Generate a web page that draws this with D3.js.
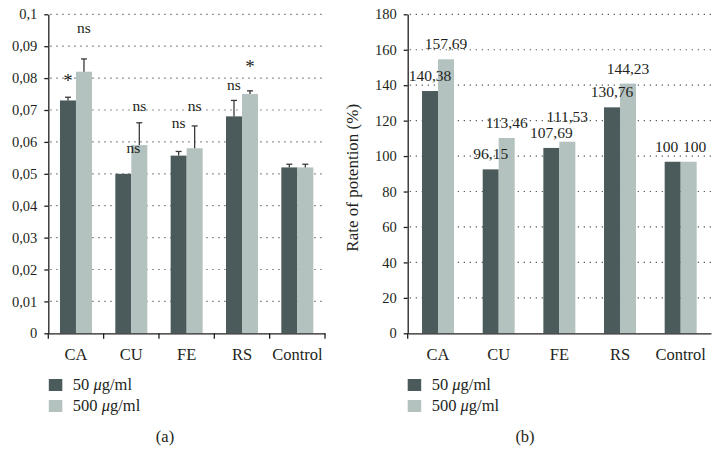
<!DOCTYPE html>
<html>
<head>
<meta charset="utf-8">
<script src="https://cdn.jsdelivr.net/npm/d3@7"></script>
<style>
  html, body { margin: 0; padding: 0; background: #fff; }
  svg { display: block; font-family: "Liberation Serif", "Times New Roman", serif; }
</style>
</head>
<body>
<svg id="chart" width="722" height="471"></svg>
<script>
// ---------- DATA ----------
const categories = ["CA", "CU", "FE", "RS", "Control"];
const seriesNames = ["50 μg/ml", "500 μg/ml"];

// Panel (a)
const a50 = [0.073, 0.050, 0.0557, 0.068, 0.052];
const a500 = [0.082, 0.059, 0.058, 0.075, 0.052];
const a50Err = [0.001, 0, 0.0013, 0.005, 0.001];
const a500Err = [0.004, 0.007, 0.007, 0.001, 0.001];
const a50Sig = ["*", "ns", "ns", "ns", ""];
const a500Sig = ["ns", "ns", "ns", "*", ""];
const a50SigLevel = [0.0781, 0.0566, 0.0644, 0.0763, null];
const a500SigLevel = [0.0941, 0.0697, 0.0697, 0.0825, null];
const aTicks = [0, 0.01, 0.02, 0.03, 0.04, 0.05, 0.06, 0.07, 0.08, 0.09, 0.1];

// Panel (b)
const b50 = [136.7, 92.5, 104.6, 127.5, 96.8];
const b500 = [154.6, 110.2, 108.1, 140.9, 96.8];
const b50Labels = ["140,38", "96,15", "107,69", "130,76", "100"];
const b500Labels = ["157,69", "113,46", "111,53", "144,23", "100"];
const bTicks = [0, 20, 40, 60, 80, 100, 120, 140, 160, 180];
const bYLabel = "Rate of potention (%)";

// ---------- STYLE ----------
const DARK = "#4b5b5b", LIGHT = "#b3c1bf", INK = "#231f20";
const svg = d3.select("#chart");
const fmtComma = d => String(+d.toFixed(3)).replace(".", ",");

function panel(opts) {
  const g = svg.append("g");
  const x = d3.scaleBand().domain(categories).range([opts.x0, opts.x1]);
  const y = d3.scaleLinear().domain([0, opts.ymax]).range([333.3, 14.3]);
  const half = 16;
  const x1 = d3.scaleBand().domain([0, 1])
    .range([x.bandwidth() / 2 - half, x.bandwidth() / 2 + half]);

  // grid
  g.append("g").selectAll("line").data(opts.ticks.filter(t => t > 0)).join("line")
    .attr("x1", opts.x0 + 2).attr("x2", opts.x1)
    .attr("y1", d => y(d)).attr("y2", d => y(d))
    .attr("stroke", "#5f5f5f").attr("stroke-width", 1.2)
    .attr("stroke-dasharray", "1.3 4.7");

  // bars
  const rows = categories.map((c, i) => ({c, i, vals: [opts.s50[i], opts.s500[i]]}));
  const grp = g.append("g").selectAll("g").data(rows).join("g")
    .attr("transform", d => `translate(${x(d.c)},0)`);
  grp.selectAll("rect").data(d => d.vals.map((v, k) => ({v, k}))).join("rect")
    .attr("x", d => x1(d.k)).attr("width", x1.bandwidth())
    .attr("y", d => y(d.v)).attr("height", d => y(0) - y(d.v))
    .attr("fill", d => d.k === 0 ? DARK : LIGHT);

  // y axis
  const yAxis = d3.axisLeft(y).tickValues(opts.ticks).tickSize(4).tickSizeOuter(0)
    .tickPadding(7).tickFormat(opts.tickFormat);
  const ya = g.append("g").attr("transform", `translate(${opts.x0},0)`).call(yAxis);
  ya.selectAll("text").attr("font-size", 14.5).attr("fill", INK)
    .attr("font-family", "Liberation Serif, serif");
  ya.selectAll("line, path").attr("stroke", INK).attr("stroke-width", 1.3);

  // x axis
  const xAxis = d3.axisBottom(x).tickSize(0).tickSizeOuter(0).tickPadding(14.5);
  const xa = g.append("g").attr("transform", `translate(0,${y(0)})`).call(xAxis);
  xa.selectAll("text").attr("font-size", 16.5).attr("fill", INK)
    .attr("font-family", "Liberation Serif, serif");
  xa.select("path").attr("stroke", INK).attr("stroke-width", 1.3);
  const edges = opts.boundaryTicks
    ? categories.map(c => x(c)).concat([opts.x1])
    : [opts.x0];
  xa.append("g").selectAll("line").data(edges).join("line")
    .attr("x1", d => d).attr("x2", d => d).attr("y1", 0).attr("y2", 5.5)
    .attr("stroke", INK).attr("stroke-width", 1.3);

  return {g, x, x1, y};
}

// ---------- PANEL A ----------
const A = panel({x0: 48.3, x1: 325, ymax: 0.1, ticks: aTicks, s50: a50, s500: a500,
  tickFormat: fmtComma, boundaryTicks: true});
[[a50, a50Err, 0], [a500, a500Err, 1]].forEach(([vals, errs, k]) => {
  categories.forEach((c, i) => {
    if (!errs[i]) return;
    const cx = A.x(c) + A.x1(k) + A.x1.bandwidth() / 2;
    const top = A.y(vals[i] + errs[i]);
    A.g.append("line").attr("x1", cx).attr("x2", cx)
      .attr("y1", A.y(vals[i])).attr("y2", top)
      .attr("stroke", "#3a3a3a").attr("stroke-width", 1.3);
    A.g.append("line").attr("x1", cx - 3).attr("x2", cx + 3)
      .attr("y1", top).attr("y2", top)
      .attr("stroke", "#3a3a3a").attr("stroke-width", 1.3);
  });
});
[[a50Sig, a50SigLevel, 0], [a500Sig, a500SigLevel, 1]].forEach(([labs, lv, k]) => {
  categories.forEach((c, i) => {
    if (!labs[i]) return;
    let cx = A.x(c) + A.x1(k) + A.x1.bandwidth() / 2;
    // a dark-bar label with no error bar is nudged right, as in the figure
    if (k === 0 && !a50Err[i]) cx += 10;
    const star = labs[i] === "*";
    A.g.append("text").attr("x", cx).attr("y", A.y(lv[i]) + (star ? 3 : 0))
      .attr("text-anchor", "middle").attr("font-size", star ? 19 : 15.5).attr("fill", INK)
      .text(labs[i]);
  });
});

// ---------- PANEL B ----------
const B = panel({x0: 407.7, x1: 711, ymax: 180, ticks: bTicks, s50: b50, s500: b500,
  tickFormat: d => String(d), boundaryTicks: false});
categories.forEach((c, i) => {
  const cx0 = B.x(c) + B.x1(0) + B.x1.bandwidth() / 2;
  const cx1 = B.x(c) + B.x1(1) + B.x1.bandwidth() / 2;
  let y0 = B.y(b50[i]) - 10, y1 = B.y(b500[i]) - 10;
  let dx0 = 0, dx1 = 0;
  const diff = y0 - y1;
  if (Math.abs(diff) < 0.5) { dx0 = -6; dx1 = 6; }
  else if (diff > 0 && diff < 15.5) { y1 = y0 - 15.5; }
  B.g.append("text").attr("x", cx0 + dx0).attr("y", y0).attr("text-anchor", "middle")
    .attr("font-size", 15.5).attr("fill", INK).text(b50Labels[i]);
  B.g.append("text").attr("x", cx1 + dx1).attr("y", y1).attr("text-anchor", "middle")
    .attr("font-size", 15.5).attr("fill", INK).text(b500Labels[i]);
});
svg.append("text")
  .attr("transform", `translate(358,${(B.y(0) + B.y(180)) / 2 + 4}) rotate(-90)`)
  .attr("text-anchor", "middle").attr("font-size", 17).attr("fill", INK)
  .text(bYLabel);

// ---------- LEGENDS & CAPTIONS ----------
function legend(x0) {
  const lg = svg.append("g");
  seriesNames.forEach((name, k) => {
    const yy = 379 + k * 21;
    lg.append("rect").attr("x", x0).attr("y", yy).attr("width", 13.5).attr("height", 12)
      .attr("fill", k === 0 ? DARK : LIGHT);
    const parts = name.split("μ");
    const t = lg.append("text").attr("x", x0 + 24).attr("y", yy + 10.5)
      .attr("font-size", 16.5).attr("fill", INK);
    t.append("tspan").text(parts[0]);
    t.append("tspan").attr("font-style", "italic").text("μ");
    t.append("tspan").text(parts[1]);
  });
}
legend(48.8);
legend(407.7);

svg.append("text").attr("x", 165).attr("y", 442).attr("text-anchor", "middle")
  .attr("font-size", 16.5).attr("fill", INK).text("(a)");
svg.append("text").attr("x", 525).attr("y", 442).attr("text-anchor", "middle")
  .attr("font-size", 16.5).attr("fill", INK).text("(b)");
</script>
</body>
</html>
